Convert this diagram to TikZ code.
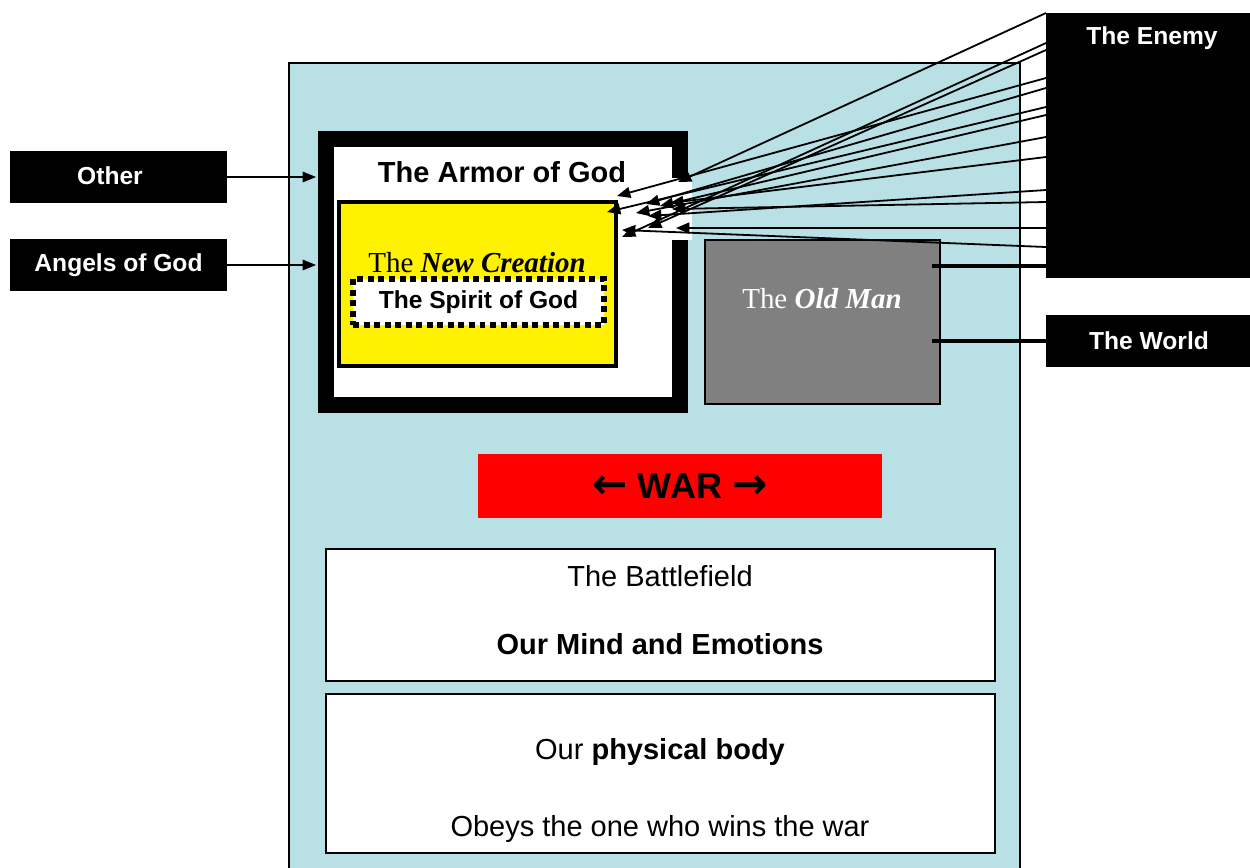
\documentclass[tikz,border=0pt]{standalone}
\usepackage{fontspec}
\setmainfont{Liberation Sans}
\newfontfamily\romanfont{Liberation Serif}
\newfontfamily\arrowfont{DejaVu Sans}
\usetikzlibrary{arrows.meta}

\newlength\px
\setlength\px{0.02cm}
\definecolor{fieldblue}{RGB}{185,224,228}

\tikzset{
  blackbox/.style={fill=black,text=white,inner sep=0pt,font=\bfseries\fontsize{14}{16}\selectfont},
  plainbox/.style={draw=black,fill=white,line width=1.5\px,inner sep=0pt},
  bodytext/.style={inner sep=0pt,font=\fontsize{16.5}{19}\selectfont},
  romantext/.style={inner sep=0pt,font=\romanfont\fontsize{16.5}{19}\selectfont},
  attack/.style={-{Triangle[length=7.6pt,width=6.2pt]},line width=1.8\px},
  helparrow/.style={-{Triangle[length=7.6pt,width=6pt]},line width=1.2\px},
}

\begin{document}
\begin{tikzpicture}[x=\px,y=-\px]
  \useasboundingbox (0,0) rectangle (1250,867);
  % the person
  \node[draw=black,fill=fieldblue,line width=1.5\px,minimum width=731\px,minimum height=820\px,inner sep=0pt] at (654.5,473) (person) {};
  % armor and new creation
  \node[draw=black,fill=white,line width=16\px,minimum width=354\px,minimum height=266\px,inner sep=0pt] at (503,272) (armor) {};
  \fill[white] (670,178) rectangle (692,240);
  \node[inner sep=0pt,font=\bfseries\fontsize{16.5}{19}\selectfont] at (502,172) (armortext) {The Armor of God};
  \node[draw=black,fill=yellow,line width=4\px,minimum width=277\px,minimum height=164\px,inner sep=0pt] at (477.5,284) (newman) {};
  \node[romantext] at (477,263) (newtext) {The \textbf{\textit{New Creation}}};
  \node[draw=black,fill=white,line width=6\px,dash pattern=on 3.4pt off 2.6pt,minimum width=251\px,minimum height=46\px,inner sep=0pt,font=\bfseries\fontsize{14}{16}\selectfont] at (478.5,302) (spirit) {The Spirit of God};
  % old man
  \node[draw=black,fill=gray,line width=1.5\px,minimum width=235\px,minimum height=164\px,inner sep=0pt] at (822.5,322) (oldman) {};
  \node[romantext,text=white] at (822,299) (oldtext) {The \textbf{\textit{Old Man}}};
  % outside
  \node[blackbox,minimum width=206\px,minimum height=265\px] at (1149,145.5) (enemy) {};
  \node[blackbox] at (1152,38) (enemytext) {The Enemy};
  \node[blackbox,minimum width=206\px,minimum height=52\px] at (1149,341) (world) {The World};
  \node[blackbox,minimum width=217\px,minimum height=52\px] at (118.5,177) (other) {};
  \node[blackbox] at (110,176) (othertext) {Other};
  \node[blackbox,minimum width=217\px,minimum height=52\px] at (118.5,265) (angels) {Angels of God};
  % war, mind and body
  \node[fill=red,minimum width=404\px,minimum height=64\px,inner sep=0pt,font=\bfseries\fontsize{20.5}{24}\selectfont] at (680,486) (war) {{\arrowfont\bfseries\fontsize{24}{24}\selectfont ←} WAR {\arrowfont\bfseries\fontsize{24}{24}\selectfont →}};
  \node[plainbox,minimum width=669\px,minimum height=132\px] at (660.5,615) (mind) {};
  \node[bodytext] at (660,576) (mindtop) {The Battlefield};
  \node[bodytext,font=\bfseries\fontsize{16.5}{19}\selectfont] at (660,644) (mindbottom) {Our Mind and Emotions};
  \node[plainbox,minimum width=669\px,minimum height=159\px] at (660.5,773.5) (body) {};
  \node[bodytext] at (660,752) (bodytop) {Our \textbf{physical body}};
  \node[bodytext] at (660,829) (bodybottom) {Obeys the one who wins the war};
  % helpers
  \coordinate (othertip) at (316,177);
  \coordinate (angeltip) at (316,265);
  \draw[helparrow] (other.east) -- (othertip);
  \draw[helparrow] (angels.east) -- (angeltip);
  % old man tied to enemy and world
  \coordinate (omtop) at (932,266);
  \coordinate (ombottom) at (932,341);
  \draw[line width=4\px] (omtop) -- (omtop -| enemy.west);
  \draw[line width=4\px] (ombottom) -- (world.west);
  % attacks of the enemy
  \coordinate (s1) at (1046,13);
  \coordinate (s2) at (1046,43);
  \coordinate (s3) at (1046,50);
  \coordinate (s4) at (1046,78);
  \coordinate (s5) at (1046,88);
  \coordinate (s6) at (1046,107);
  \coordinate (s7) at (1046,115);
  \coordinate (s8) at (1046,137);
  \coordinate (s9) at (1046,157);
  \coordinate (s10) at (1046,190);
  \coordinate (s11) at (1046,202);
  \coordinate (s12) at (1046,228);
  \coordinate (s13) at (1046,247);
  \coordinate (t1) at (678,182);
  \coordinate (t2) at (622,237);
  \coordinate (t3) at (648,228);
  \coordinate (t4) at (617,196);
  \coordinate (t5) at (646,204);
  \coordinate (t6) at (607,212);
  \coordinate (t7) at (660,206);
  \coordinate (t8) at (636,213);
  \coordinate (t9) at (670,203);
  \coordinate (t10) at (648,216);
  \coordinate (t11) at (672,209);
  \coordinate (t12) at (676,228);
  \coordinate (t13) at (622,230);
  \draw[attack] (s1) -- (t1);
  \draw[attack] (s2) -- (t2);
  \draw[attack] (s3) -- (t3);
  \draw[attack] (s4) -- (t4);
  \draw[attack] (s5) -- (t5);
  \draw[attack] (s6) -- (t6);
  \draw[attack] (s7) -- (t7);
  \draw[attack] (s8) -- (t8);
  \draw[attack] (s9) -- (t9);
  \draw[attack] (s10) -- (t10);
  \draw[attack] (s11) -- (t11);
  \draw[attack] (s12) -- (t12);
  \draw[attack] (s13) -- (t13);
\end{tikzpicture}
\end{document}
